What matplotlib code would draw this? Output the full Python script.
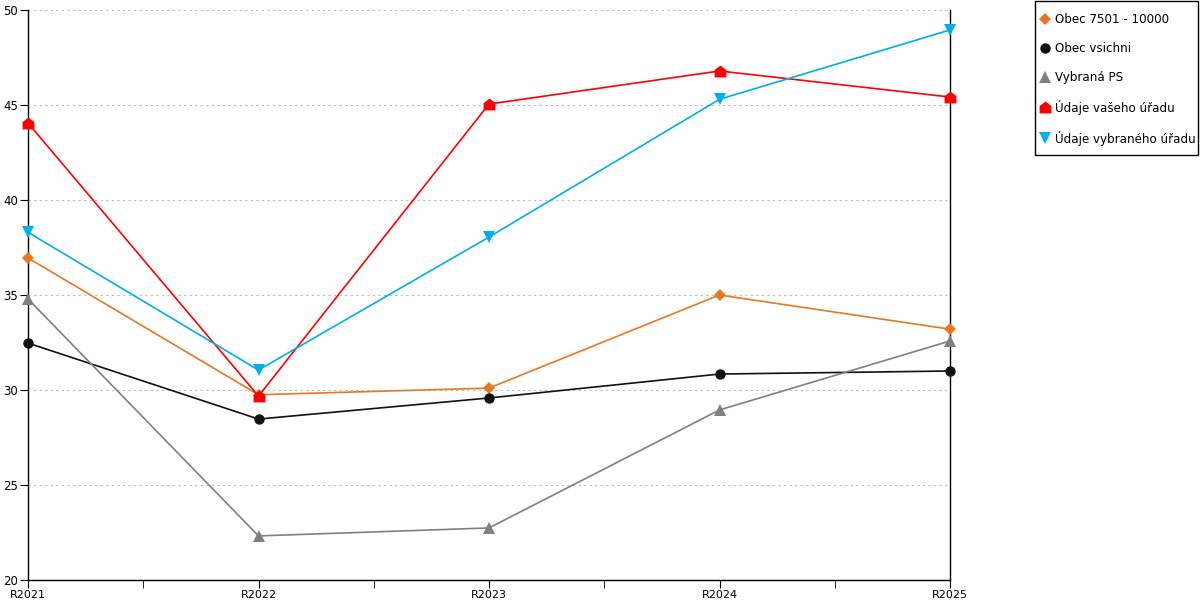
import matplotlib
matplotlib.use("Agg")
import matplotlib.pyplot as plt
from matplotlib.path import Path
from matplotlib.patches import Rectangle

categories = ["R2021", "R2022", "R2023", "R2024", "R2025"]
obec_7501 = [36.95, 29.75, 30.1, 35.0, 33.2]
obec_vsichni = [32.47, 28.47, 29.58, 30.84, 31.0]
vybrana_ps = [34.79, 22.32, 22.74, 28.95, 32.58]
vaseho_uradu = [44.05, 29.68, 45.05, 46.79, 45.42]
vybraneho_uradu = [38.3, 31.05, 38.05, 45.3, 48.95]

house = Path([(-1, -1), (1, -1), (1, 0.25), (0, 1), (-1, 0.25), (-1, -1)],
             [Path.MOVETO, Path.LINETO, Path.LINETO, Path.LINETO, Path.LINETO, Path.CLOSEPOLY])

fig = plt.figure(figsize=(12, 6), dpi=100)
ax = fig.add_axes([28/1200, 20/600, (950-28)/1200, 570/600])

x = list(range(len(categories)))
series = [
    ("Obec 7501 - 10000", obec_7501, "#E87722", "D", 6),
    ("Obec vsichni", obec_vsichni, "#111111", "o", 7.5),
    ("Vybraná PS", vybrana_ps, "#808080", "^", 8),
    ("Údaje vašeho úřadu", vaseho_uradu, "#FF0000", house, 8.5),
    ("Údaje vybraného úřadu", vybraneho_uradu, "#00AEEF", "v", 8),
]
for name, vals, col, mk, ms in series:
    ax.plot(x, vals, color=col, lw=1.2, marker=mk, markersize=ms,
            markeredgewidth=0, label=name, clip_on=False, zorder=3)

ax.set_xlim(0, 4)
ax.set_ylim(20, 50)
ax.set_yticks([20, 25, 30, 35, 40, 45, 50])
ax.set_xticks(x)
ax.set_xticklabels(categories)
ax.set_xticks([0.5, 1.5, 2.5, 3.5], minor=True)
ax.tick_params(axis="x", which="both", direction="out", length=6, labelsize=8, pad=1)
ax.tick_params(axis="y", direction="out", length=6, labelsize=8.5, pad=1)
ax.grid(axis="y", linestyle=(0, (2, 3)), color="#BBBBBB", lw=0.8)
ax.set_axisbelow(True)
ax.spines["top"].set_visible(False)
for s in ["left", "right", "bottom"]:
    ax.spines[s].set_color("black")
    ax.spines[s].set_linewidth(1)

# legend frame drawn separately to match asymmetric padding
fig.patches.append(Rectangle((1035/1200, 1 - 155/600), 163/1200, 154/600,
                             transform=fig.transFigure, fill=False,
                             edgecolor="black", lw=1))
handles, labels = ax.get_legend_handles_labels()
leg = fig.legend(handles, labels, loc="upper left", bbox_to_anchor=(1041/1200, 1 - 13/600),
                 frameon=False, fontsize=8.6,
                 handlelength=0.6, handletextpad=0.55, labelspacing=1.33,
                 borderpad=0, borderaxespad=0)
for h in leg.legend_handles:
    h.set_linestyle("none")

fig.savefig("out.png", dpi=100)
